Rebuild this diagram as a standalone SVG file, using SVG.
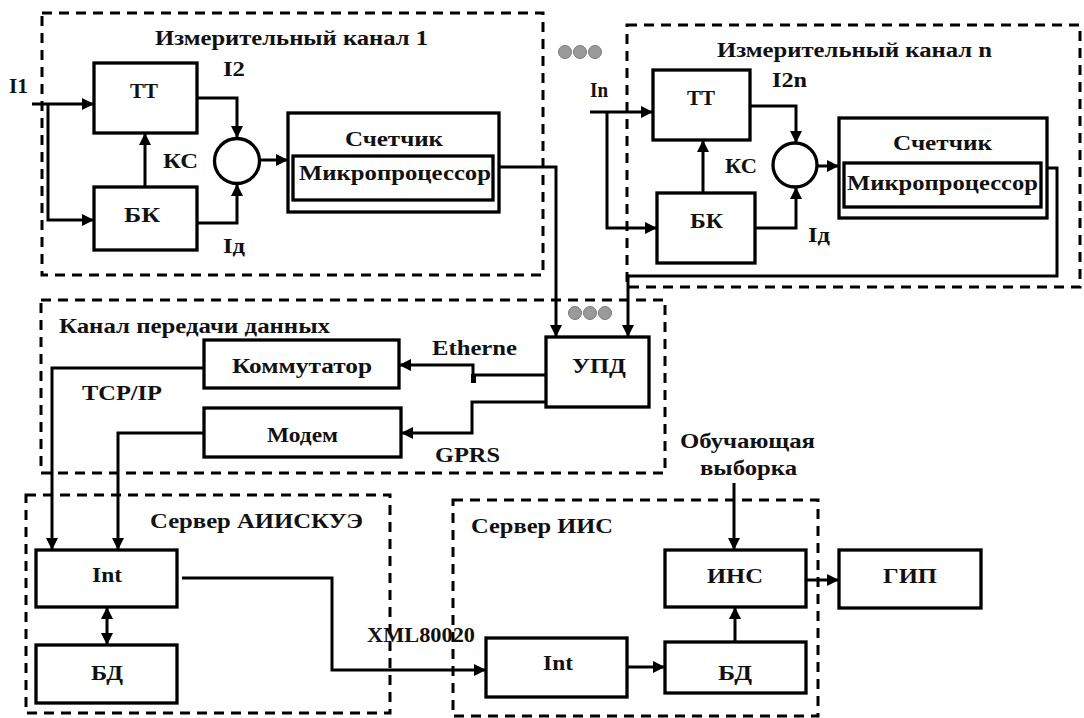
<svg xmlns="http://www.w3.org/2000/svg" width="1084" height="718" viewBox="0 0 1084 718">
<style>
.box{fill:#fff;stroke:#000;stroke-width:3.3}
.grp{fill:none;stroke:#000;stroke-width:3;stroke-dasharray:10 7}
.t{font-family:"Liberation Serif","Times New Roman",serif;font-weight:bold;font-size:20px;fill:#111}
.b{font-size:22px}
.ln{fill:none;stroke:#000;stroke-width:3}
.dot{fill:#9a9a9a;stroke:#7a7a7a;stroke-width:1}
</style>
<defs>
<marker id="ah" markerUnits="userSpaceOnUse" markerWidth="12" markerHeight="12" viewBox="0 0 12 12" refX="12" refY="6" orient="auto">
<path d="M0,0 L12,6 L0,12 z" fill="#000"/>
</marker>
<marker id="ahs" markerUnits="userSpaceOnUse" markerWidth="12" markerHeight="12" viewBox="0 0 12 12" refX="12" refY="6" orient="auto-start-reverse">
<path d="M0,0 L12,6 L0,12 z" fill="#000"/>
</marker>
</defs>

<!-- group frames -->
<g id="channel1">
<rect class="grp" x="42" y="13" width="501" height="262"/>
<text class="t" x="155" y="45" textLength="273" lengthAdjust="spacingAndGlyphs">Измерительный канал 1</text>
</g>
<g id="channeln">
<rect class="grp" x="627" y="25" width="453" height="262"/>
<text class="t" x="717" y="57" textLength="275" lengthAdjust="spacingAndGlyphs">Измерительный канал n</text>
</g>
<g id="datachannel">
<rect class="grp" x="41" y="300" width="624" height="173"/>
<text class="t" x="59" y="333" textLength="271" lengthAdjust="spacingAndGlyphs">Канал передачи данных</text>
</g>
<g id="serverAIIS">
<rect class="grp" x="26" y="495" width="364" height="218"/>
<text class="t" x="150" y="528" textLength="213" lengthAdjust="spacingAndGlyphs">Сервер АИИСКУЭ</text>
</g>
<g id="serverIIS">
<rect class="grp" x="453" y="500" width="365" height="216"/>
<text class="t" x="471" y="533" textLength="142" lengthAdjust="spacingAndGlyphs">Сервер ИИС</text>
</g>

<!-- connectors -->
<g id="connectors">
<path class="ln" d="M32,104 H94" marker-end="url(#ah)"/>
<path class="ln" d="M48,104 V220 H94" marker-end="url(#ah)"/>
<path class="ln" d="M145,187 V133" marker-end="url(#ah)"/>
<path class="ln" d="M197,98 H237 V138" marker-end="url(#ah)"/>
<path class="ln" d="M197,223 H237 V184" marker-end="url(#ah)"/>
<path class="ln" d="M260,160 H288" marker-end="url(#ah)"/>
<path class="ln" d="M493,167 H556 V337" marker-end="url(#ah)"/>

<path class="ln" d="M590,112 H653" marker-end="url(#ah)"/>
<path class="ln" d="M607,112 V228 H657" marker-end="url(#ah)"/>
<path class="ln" d="M703,193 V140" marker-end="url(#ah)"/>
<path class="ln" d="M750,106 H796 V143" marker-end="url(#ah)"/>
<path class="ln" d="M755,228 H796 V187" marker-end="url(#ah)"/>
<path class="ln" d="M817,166 H839" marker-end="url(#ah)"/>
<path class="ln" d="M1041,168 H1057 V276 H628 V337" marker-end="url(#ah)"/>

<path class="ln" d="M546,375 H473 V365 H399" marker-end="url(#ah)"/>
<rect x="471" y="374" width="5" height="9" fill="#000"/>
<path class="ln" d="M546,402 H472 V433 H401" marker-end="url(#ah)"/>
<path class="ln" d="M204,368 H52 V550" marker-end="url(#ah)"/>
<path class="ln" d="M204,433 H118 V550" marker-end="url(#ah)"/>

<path class="ln" d="M107,607 V645" marker-start="url(#ahs)" marker-end="url(#ahs)"/>
<path class="ln" d="M182,578 H332 V670 H486" marker-end="url(#ah)"/>
<path class="ln" d="M627,667 H665" marker-end="url(#ah)"/>
<path class="ln" d="M735,642 V607" marker-end="url(#ah)"/>
<path class="ln" d="M734,483 V550" marker-end="url(#ah)"/>
<path class="ln" d="M806,580 H839" marker-end="url(#ah)"/>

<text class="t" x="9" y="93" textLength="19" lengthAdjust="spacingAndGlyphs">I1</text>
<text class="t" x="223" y="76" textLength="22" lengthAdjust="spacingAndGlyphs">I2</text>
<text class="t" x="163" y="168" textLength="35" lengthAdjust="spacingAndGlyphs">КС</text>
<text class="t" x="223" y="253" textLength="22" lengthAdjust="spacingAndGlyphs">Iд</text>
<text class="t" x="590" y="97" textLength="18" lengthAdjust="spacingAndGlyphs">In</text>
<text class="t" x="772" y="87" textLength="35" lengthAdjust="spacingAndGlyphs">I2n</text>
<text class="t" x="725" y="173" textLength="32" lengthAdjust="spacingAndGlyphs">КС</text>
<text class="t" x="808" y="242" textLength="22" lengthAdjust="spacingAndGlyphs">Iд</text>
<text class="t" x="82" y="400" textLength="80" lengthAdjust="spacingAndGlyphs">TCP/IP</text>
<text class="t" x="432" y="355" textLength="85" lengthAdjust="spacingAndGlyphs">Etherne</text>
<text class="t" x="435" y="462" textLength="65" lengthAdjust="spacingAndGlyphs">GPRS</text>
<text class="t" x="367" y="642" textLength="108" lengthAdjust="spacingAndGlyphs">XML80020</text>
<text class="t" x="680" y="448" textLength="135" lengthAdjust="spacingAndGlyphs">Обучающая</text>
<text class="t" x="700" y="475" textLength="97" lengthAdjust="spacingAndGlyphs">выборка</text>
</g>

<!-- dots -->
<g id="dots-top">
<circle class="dot" cx="565" cy="52" r="6.5"/>
<circle class="dot" cx="580" cy="52" r="6.5"/>
<circle class="dot" cx="595" cy="52" r="6.5"/>
</g>
<g id="dots-mid">
<circle class="dot" cx="575" cy="313" r="6.5"/>
<circle class="dot" cx="590" cy="313" r="6.5"/>
<circle class="dot" cx="605" cy="313" r="6.5"/>
</g>

<!-- channel 1 nodes -->
<g id="tt1">
<rect class="box" x="94" y="63" width="103" height="70"/>
<text class="t" x="130" y="98" textLength="28" lengthAdjust="spacingAndGlyphs">ТТ</text>
</g>
<g id="bk1">
<rect class="box" x="94" y="187" width="103" height="63"/>
<text class="t" x="124" y="222" textLength="36" lengthAdjust="spacingAndGlyphs">БК</text>
</g>
<g id="sum1">
<circle class="box" cx="237" cy="161" r="22.5"/>
</g>
<g id="meter1">
<rect class="box" x="288" y="113" width="211" height="99"/>
<text class="t b" x="345" y="146" textLength="98" lengthAdjust="spacingAndGlyphs">Счетчик</text>
<rect class="box" x="293" y="156" width="200" height="44"/>
<text class="t b" x="299" y="180" textLength="192" lengthAdjust="spacingAndGlyphs">Микропроцессор</text>
</g>

<!-- channel n nodes -->
<g id="ttn">
<rect class="box" x="653" y="70" width="97" height="70"/>
<text class="t" x="687" y="105" textLength="28" lengthAdjust="spacingAndGlyphs">ТТ</text>
</g>
<g id="bkn">
<rect class="box" x="657" y="193" width="98" height="70"/>
<text class="t" x="690" y="228" textLength="33" lengthAdjust="spacingAndGlyphs">БК</text>
</g>
<g id="sumn">
<circle class="box" cx="795" cy="165" r="22"/>
</g>
<g id="metern">
<rect class="box" x="839" y="118" width="208" height="100"/>
<text class="t b" x="893" y="150" textLength="99" lengthAdjust="spacingAndGlyphs">Счетчик</text>
<rect class="box" x="844" y="163" width="197" height="44"/>
<text class="t b" x="847" y="190" textLength="191" lengthAdjust="spacingAndGlyphs">Микропроцессор</text>
</g>

<!-- data channel nodes -->
<g id="upd">
<rect class="box" x="546" y="337" width="103" height="70"/>
<text class="t b" x="572" y="373" textLength="54" lengthAdjust="spacingAndGlyphs">УПД</text>
</g>
<g id="switch">
<rect class="box" x="204" y="340" width="195" height="48"/>
<text class="t" x="232" y="373" textLength="140" lengthAdjust="spacingAndGlyphs">Коммутатор</text>
</g>
<g id="modem">
<rect class="box" x="204" y="408" width="197" height="49"/>
<text class="t" x="267" y="442" textLength="71" lengthAdjust="spacingAndGlyphs">Модем</text>
</g>

<!-- server AIIS nodes -->
<g id="intA">
<rect class="box" x="36" y="550" width="141" height="57"/>
<text class="t" x="92" y="582" textLength="30" lengthAdjust="spacingAndGlyphs">Int</text>
</g>
<g id="bdA">
<rect class="box" x="36" y="645" width="141" height="58"/>
<text class="t" x="91" y="680" textLength="32" lengthAdjust="spacingAndGlyphs">БД</text>
</g>

<!-- server IIS nodes -->
<g id="intI">
<rect class="box" x="486" y="638" width="141" height="59"/>
<text class="t" x="543" y="670" textLength="30" lengthAdjust="spacingAndGlyphs">Int</text>
</g>
<g id="bdI">
<rect class="box" x="665" y="642" width="141" height="51"/>
<text class="t" x="718" y="680" textLength="34" lengthAdjust="spacingAndGlyphs">БД</text>
</g>
<g id="ins">
<rect class="box" x="665" y="550" width="141" height="57"/>
<text class="t" x="707" y="583" textLength="56" lengthAdjust="spacingAndGlyphs">ИНС</text>
</g>
<g id="gip">
<rect class="box" x="839" y="550" width="142" height="58"/>
<text class="t" x="883" y="583" textLength="54" lengthAdjust="spacingAndGlyphs">ГИП</text>
</g>
</svg>
